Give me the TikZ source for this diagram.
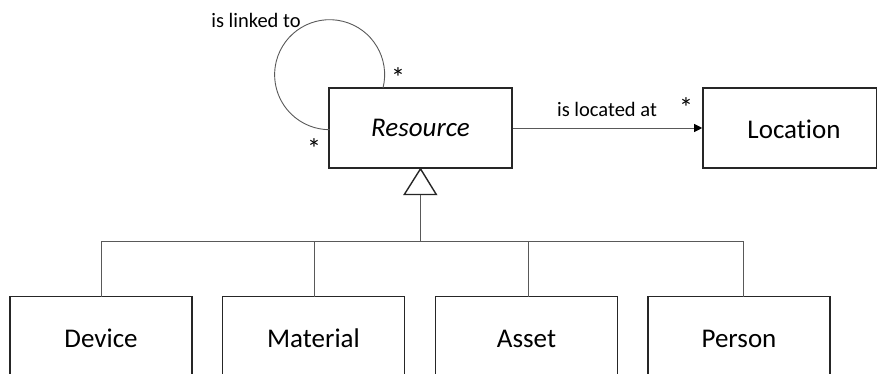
\documentclass[tikz,border=0pt]{standalone}
\usepackage{fontspec}
\setmainfont{Carlito}[Ligatures=NoCommon]
\usetikzlibrary{arrows.meta}
\begin{document}
\begin{tikzpicture}[x=1pt,y=-1pt,
  box/.style={draw=black!85,line width=1.6pt,minimum width=182pt,inner sep=0pt,text height=17.5pt,text depth=0pt,font=\fontsize{27}{30}\selectfont},
  conn/.style={draw=black!65,line width=0.9pt},
  lbl/.style={inner sep=0pt,font=\fontsize{20.5}{24}\selectfont},
  mult/.style={inner sep=0pt,font=\fontsize{28}{30}\selectfont}]
\useasboundingbox (0,0) rectangle (877,374);
\clip (0,0) rectangle (877,374);
% top nodes
\node[box,minimum width=183pt,minimum height=80pt] (res) at (420.5,128) {\itshape Resource};
\node[box,minimum width=174pt,minimum height=80pt] (loc) at (790,128) {\hspace*{8pt}\raisebox{-2pt}{Location}};
% bottom nodes
\node[box,minimum height=84pt] (dev) at (101,338.5) {Device};
\node[box,minimum height=84pt] (mat) at (313.5,338.5) {Material};
\node[box,minimum height=84pt] (ass) at (526.5,338.5) {Asset};
\node[box,minimum height=84pt] (per) at (739,338.5) {Person};
% association
\draw[conn,-{Triangle[length=8pt,width=8pt,fill=black,color=black]}] (res.east) -- (loc.west);
\node[lbl] (lat) at (607,109) {is located at};
\node[mult] (m1) at (686,108) {*};
% self loop
\coordinate (ls) at (383,88);
\draw[conn] (ls) arc[start angle=14,end angle=-270,radius=55] coordinate (lend);
\node[lbl] (ltl) at (256,20) {is linked to};
\node[mult] (m2) at (398,78) {*};
\node[mult] (m3) at (314,149) {*};
% generalization
\coordinate (tb) at (420.3,194.5);
\draw[draw=black!85,line width=1.4pt,fill=white] (res.south) -- (404.3,194.5) -- (436.3,194.5) -- cycle;
\coordinate (bus) at (420.3,241);
\draw[conn] (tb) -- (bus);
\coordinate (dtop) at (101.7,296.7);
\coordinate (mtop) at (314.7,296.7);
\coordinate (atop) at (528,296.7);
\coordinate (ptop) at (743.7,296.7);
\draw[conn] (dtop) |- (bus);
\draw[conn] (mtop) -- (mtop |- bus);
\draw[conn] (atop) -- (atop |- bus);
\draw[conn] (ptop) |- (bus);
\end{tikzpicture}
\end{document}
